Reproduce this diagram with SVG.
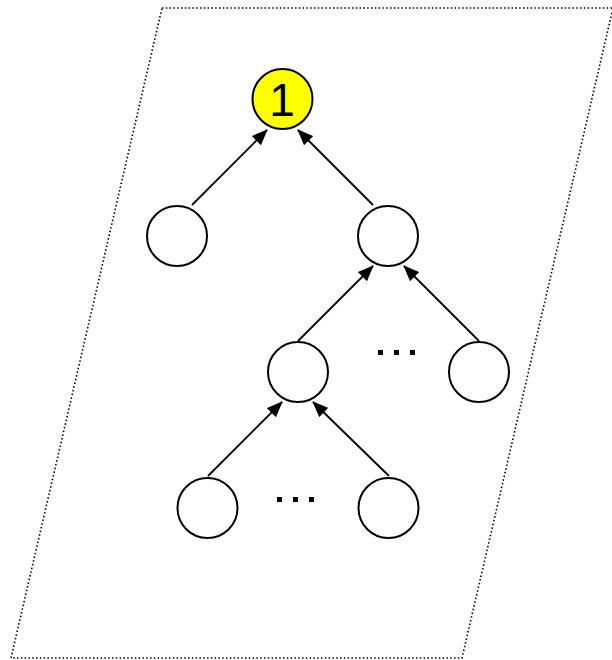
<svg xmlns="http://www.w3.org/2000/svg" width="612" height="660" viewBox="0 0 612 660">
  <style>
    .frame { fill: none; stroke: #000; stroke-width: 1.6; stroke-dasharray: 1.5 2.3; }
    .node { fill: #fff; stroke: #000; stroke-width: 2; }
    .root { fill: #ffff00; stroke: #000; stroke-width: 2; }
    .edge { stroke: #000; stroke-width: 1.8; fill: none; marker-end: url(#arrow); }
    .dots { fill: #000; }
    .label { font-family: "Liberation Sans", Arial, sans-serif; font-size: 46px; fill: #000; text-anchor: middle; }
  </style>
  <defs>
    <marker id="arrow" markerWidth="16" markerHeight="13" refX="15" refY="6.5" orient="auto" markerUnits="userSpaceOnUse">
      <path d="M0,0 L16,6.5 L0,13 z" fill="#000"/>
    </marker>
  </defs>

  <rect width="612" height="660" fill="#fff"/>

  <!-- dotted parallelogram boundary -->
  <polygon class="frame" points="162,8 613,8 462,658 11,658"/>

  <!-- connectors: child to parent -->
  <g id="edges">
    <line class="edge" x1="192" y1="205" x2="267" y2="130"/>
    <line class="edge" x1="373" y1="205" x2="298" y2="130"/>
    <line class="edge" x1="298" y1="341" x2="373" y2="266"/>
    <line class="edge" x1="479" y1="341" x2="404" y2="266"/>
    <line class="edge" x1="208" y1="476" x2="282" y2="402"/>
    <line class="edge" x1="389" y1="476" x2="313" y2="402"/>
  </g>

  <g id="n1">
    <circle class="root" cx="282.5" cy="99" r="30"/>
    <text class="label" x="282" y="116">1</text>
  </g>
  <g id="n2"><circle class="node" cx="177" cy="236" r="30"/></g>
  <g id="n3"><circle class="node" cx="388" cy="236" r="30"/></g>
  <g id="n4"><circle class="node" cx="298" cy="372" r="30"/></g>
  <g id="n5"><circle class="node" cx="479" cy="372" r="30"/></g>
  <g id="n6"><circle class="node" cx="207.5" cy="508" r="30"/></g>
  <g id="n7"><circle class="node" cx="388.5" cy="508" r="30"/></g>

  <!-- ellipsis marks -->
  <g id="more1" class="dots">
    <rect x="378" y="350" width="5" height="5"/>
    <rect x="394" y="350" width="5" height="5"/>
    <rect x="410" y="350" width="5" height="5"/>
  </g>
  <g id="more2" class="dots">
    <rect x="277" y="497" width="5" height="5"/>
    <rect x="293" y="497" width="5" height="5"/>
    <rect x="309" y="497" width="5" height="5"/>
  </g>
</svg>
